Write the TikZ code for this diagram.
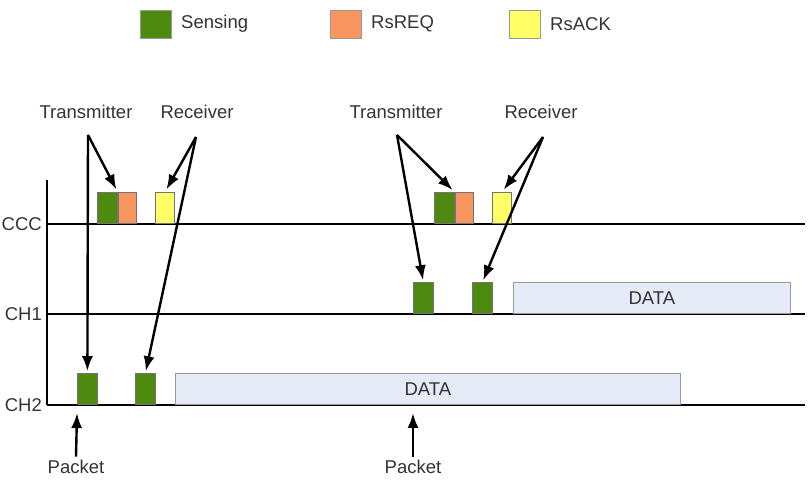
\documentclass[tikz,border=0pt]{standalone}
\usepackage{xcolor}
\usepackage{fontspec}
\setmainfont{Liberation Sans}
\usepackage{tikz}
\usetikzlibrary{arrows.meta, positioning}

\definecolor{senseGreen}{HTML}{4F8A10}
\definecolor{reqOrange}{HTML}{F9955E}
\definecolor{ackYellow}{HTML}{FFFF66}
\definecolor{dataBlue}{HTML}{E6EAF6}
\definecolor{textGray}{HTML}{333333}

\begin{document}
\begin{tikzpicture}[
    x=1pt, y=-1pt,
    font=\fontsize{18.5}{20}\selectfont,
    text=textGray,
    slot/.style={
        draw=black!55,
        line width=0.8pt,
        minimum width=20pt,
        minimum height=31pt,
        inner sep=0pt,
        anchor=south west
    },
    sense/.style={slot, fill=senseGreen},
    req/.style={slot, fill=reqOrange, minimum width=18pt},
    ack/.style={slot, fill=ackYellow, minimum width=19pt},
    data/.style={
        draw=black!40,
        line width=0.8pt,
        fill=dataBlue,
        minimum height=31pt,
        inner sep=0pt,
        anchor=south west
    },
    key/.style={
        draw=black!40,
        minimum width=31pt,
        minimum height=28pt,
        inner sep=0pt
    },
    chname/.style={
        anchor=east,
        inner sep=1pt
    },
    chan/.style={
        line width=2.4pt
    },
    arrow/.style={
        -{Latex[length=15pt, width=11pt]},
        line width=2.4pt
    }
]
\useasboundingbox (0,0) rectangle (812,494);

% legend
\node[key, fill=senseGreen] (keysense) at (156,24) {};
\node[right=6pt of keysense] (keysensetxt) {Sensing};
\node[key, fill=reqOrange] (keyreq) at (346,24) {};
\node[right=6pt of keyreq] (keyreqtxt) {RsREQ};
\node[key, fill=ackYellow] (keyack) at (525,24) {};
\node[right=6pt of keyack] (keyacktxt) {RsACK};

% channels
\draw[chan] (47,180) -- (47,405);
\draw[chan] (47,224) -- (805,224);
\draw[chan] (47,314) -- (805,314);
\draw[chan] (47,405) -- (805,405);
\node[chname] (ccc) at (43,224) {CCC};
\node[chname] (ch1) at (43,314) {CH1};
\node[chname] (ch2) at (43,405) {CH2};

% first exchange
\node[sense] (senseA) at (97,224) {};
\node[req, right=0pt of senseA] (reqA) {};
\node[ack] (ackA) at (155,224) {};
\node[sense] (senseB) at (77,405) {};
\node[sense] (senseC) at (135,405) {};
\node[data, minimum width=505pt] (dataA) at (175,405) {};
\node at (dataA.center) {DATA};

% second exchange
\node[sense] (senseD) at (434,224) {};
\node[req, right=0pt of senseD] (reqB) {};
\node[ack] (ackB) at (492,224) {};
\node[sense] (senseE) at (413,314) {};
\node[sense] (senseF) at (472,314) {};
\node[data, minimum width=277pt] (dataB) at (513,314) {};
\node at (dataB.center) {DATA};

% labels
\node (txA) at (86,112) {Transmitter};
\node (rxA) at (197,112) {Receiver};
\node (txB) at (396,112) {Transmitter};
\node (rxB) at (541,112) {Receiver};
\coordinate (txAfrom) at (88,135);
\coordinate (rxAfrom) at (196,137);
\coordinate (txBfrom) at (397,135);
\coordinate (rxBfrom) at (543,137);

\draw[arrow, shorten >=3pt] (txAfrom) -- (senseA.north east);
\draw[arrow, shorten >=2pt] (txAfrom) -- (senseB.north);
\draw[arrow, shorten >=3pt] (rxAfrom) -- (ackA.north);
\draw[arrow, shorten >=2pt] (rxAfrom) -- (senseC.north);
\draw[arrow, shorten >=3pt] (txBfrom) -- (senseD.north east);
\draw[arrow, shorten >=2pt] (txBfrom) -- (senseE.north);
\draw[arrow, shorten >=3pt] (rxBfrom) -- (ackB.north);
\draw[arrow, shorten >=2pt] (rxBfrom) -- (senseF.north);

% packet arrivals
\node (pktA) at (76,467) {Packet};
\node (pktB) at (413,467) {Packet};
\coordinate (pktAto) at (77,413);
\coordinate (pktBto) at (413,413);
\draw[arrow] (pktA.north) -- (pktAto);
\draw[arrow] (pktB.north) -- (pktBto);

\end{tikzpicture}
\end{document}
